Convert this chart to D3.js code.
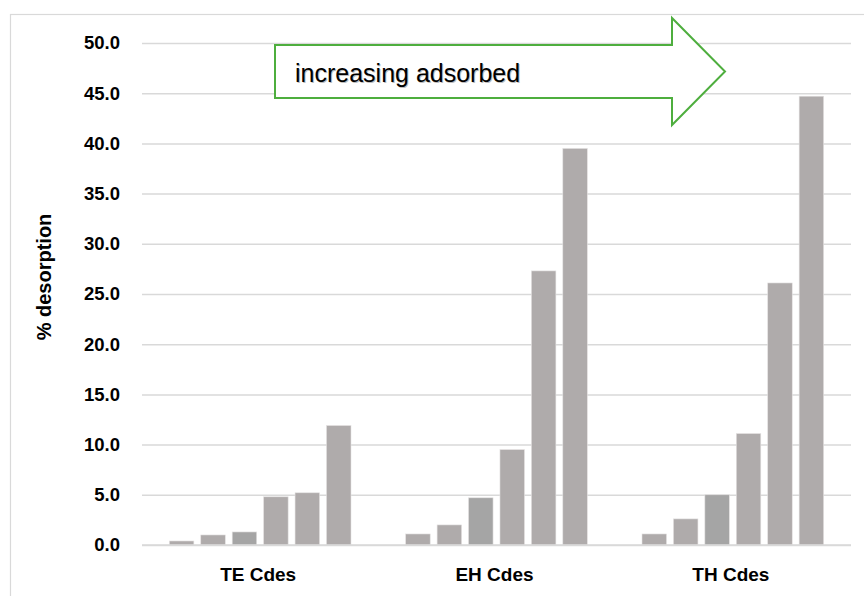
<!DOCTYPE html>
<html>
<head>
<meta charset="utf-8">
<script src="https://cdn.jsdelivr.net/npm/d3@7"></script>
<style>
  html, body { margin: 0; padding: 0; background: #fff; }
  svg { display: block; }
</style>
</head>
<body>
<svg id="chart" width="864" height="596"></svg>
<script>
// ---- data ----
const categories = ["TE Cdes", "EH Cdes", "TH Cdes"];
const seriesNames = ["s1", "s2", "s3", "s4", "s5", "s6"];
const teValues = [0.4, 1.0, 1.3, 4.8, 5.2, 11.9];
const ehValues = [1.1, 2.0, 4.7, 9.5, 27.3, 39.5];
const thValues = [1.1, 2.6, 5.0, 11.1, 26.1, 44.7];
const seriesColors = ["#AFABAB", "#AFABAB", "#A5A5A5", "#AFABAB", "#AFABAB", "#AFABAB"];
const yTicks = [0, 5, 10, 15, 20, 25, 30, 35, 40, 45, 50];
const yTitle = "% desorption";
const arrowLabel = "increasing adsorbed";

const valuesByCategory = [teValues, ehValues, thValues];
const rows = [];
categories.forEach((c, ci) => {
  valuesByCategory[ci].forEach((v, si) => rows.push({ cat: c, series: seriesNames[si], si, value: v }));
});

// ---- layout ----
const svg = d3.select("#chart");
const plot = { left: 142, right: 851, top: 43, bottom: 545 };
const gridColor = "#D9D9D9";
const font = "'Liberation Sans', Arial, sans-serif";

// chart border (left + top visible)
svg.append("rect")
  .attr("x", 10.5).attr("y", 14.5)
  .attr("width", 870).attr("height", 600)
  .attr("fill", "#fff")
  .attr("stroke", gridColor).attr("stroke-width", 1.2);

const x0 = d3.scaleBand().domain(categories).range([plot.left, plot.right]).paddingInner(0).paddingOuter(0);
const x1 = d3.scaleBand().domain(seriesNames).range([0, x0.bandwidth()]).paddingInner(0.22).paddingOuter(0.87);
const y = d3.scaleLinear().domain([0, 50]).range([plot.bottom, plot.top]);

// gridlines + y labels
const yAxis = d3.axisLeft(y).tickValues(yTicks).tickFormat(d3.format(".1f"))
  .tickSize(-(plot.right - plot.left)).tickPadding(22);
const gy = svg.append("g").attr("transform", `translate(${plot.left},0)`).call(yAxis);
gy.select(".domain").remove();
gy.selectAll(".tick line").attr("stroke", gridColor).attr("stroke-width", 1.5);
gy.selectAll(".tick text")
  .attr("fill", "#000")
  .style("font-family", font)
  .style("font-weight", "bold")
  .style("font-size", "18.5px");

// bars
svg.append("g").selectAll("rect").data(rows).join("rect")
  .attr("x", d => x0(d.cat) + x1(d.series))
  .attr("y", d => y(d.value))
  .attr("width", x1.bandwidth())
  .attr("height", d => y(0) - y(d.value))
  .attr("fill", d => seriesColors[d.si])
  .attr("stroke", "#E4E2E2").attr("stroke-width", 0.6);

// baseline
svg.append("line")
  .attr("x1", plot.left).attr("x2", plot.right)
  .attr("y1", y(0)).attr("y2", y(0))
  .attr("stroke", gridColor).attr("stroke-width", 1.5);

// category axis
const xAxis = d3.axisBottom(x0).tickSize(0).tickPadding(23);
const gx = svg.append("g").attr("transform", `translate(-2,${plot.bottom})`).call(xAxis);
gx.select(".domain").remove();
gx.selectAll(".tick text")
  .attr("fill", "#000")
  .style("font-family", font)
  .style("font-weight", "bold")
  .style("font-size", "19px");

// y title
svg.append("text")
  .attr("transform", "translate(51,277) rotate(-90)")
  .attr("text-anchor", "middle")
  .style("font-family", font)
  .style("font-weight", "bold")
  .style("font-size", "20px")
  .attr("fill", "#000")
  .text(yTitle);

// arrow annotation
const ax = { left: 275, neck: 672, tip: 725, bodyTop: 45, bodyBot: 98, headTop: 18, headBot: 125 };
const midY = (ax.headTop + ax.headBot) / 2;
const arrowPts = [
  [ax.left, ax.bodyTop], [ax.neck, ax.bodyTop], [ax.neck, ax.headTop], [ax.tip, midY],
  [ax.neck, ax.headBot], [ax.neck, ax.bodyBot], [ax.left, ax.bodyBot]
];
svg.append("path")
  .attr("d", d3.line()(arrowPts) + "Z")
  .attr("fill", "#fff")
  .attr("stroke", "#4EAE3E").attr("stroke-width", 2)
  .attr("stroke-linejoin", "miter");

const labelG = svg.append("g");
labelG.append("text")
  .attr("x", 296).attr("y", 83)
  .style("font-family", font)
  .style("font-size", "25px")
  .attr("fill", "#BDBDBD")
  .text(arrowLabel);
labelG.append("text")
  .attr("x", 295).attr("y", 82)
  .style("font-family", font)
  .style("font-size", "25px")
  .attr("fill", "#000")
  .text(arrowLabel);
</script>
</body>
</html>
